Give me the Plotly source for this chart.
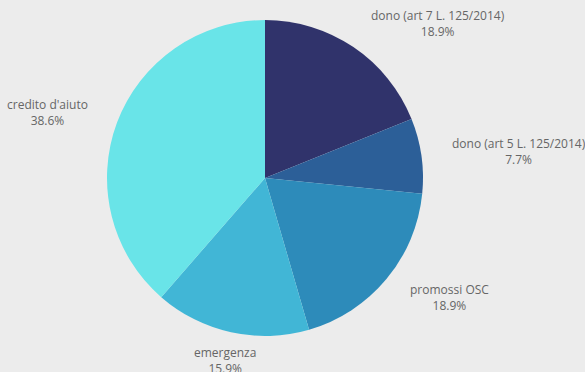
import math
import plotly.graph_objects as go

labels = ["dono (art 7 L. 125/2014)", "dono (art 5 L. 125/2014)", "promossi OSC",
          "emergenza", "credito d'aiuto"]
values = [18.9, 7.7, 18.9, 15.9, 38.6]
colors = ["#30336b", "#2c5f98", "#2d8bba", "#41b6d6", "#69e4e8"]

W, H = 585, 372
cx, cy, r = 265, 178, 158          # pie centre and radius in pixels
label_r = r * 1.18                  # radius at which labels are anchored

fig = go.Figure(go.Pie(
    labels=labels,
    values=values,
    sort=False,
    direction="clockwise",
    rotation=0,
    marker=dict(colors=colors, line=dict(width=0)),
    textinfo="none",
    hoverinfo="label+percent",
    showlegend=False,
    domain=dict(x=[(cx - r) / W, (cx + r) / W],
                y=[1 - (cy + r) / H, 1 - (cy - r) / H]),
))

# outside labels, placed on each slice's mid angle
total = sum(values)
cum = 0.0
annotations = []
for lab, val in zip(labels, values):
    mid = (cum + val / 2) / total * 2 * math.pi
    cum += val
    sx, sy = math.sin(mid), math.cos(mid)
    px = cx + label_r * sx
    py = cy - label_r * sy
    if abs(sx) < 0.3:
        xa = "center"
    elif sx > 0:
        xa = "left"
    else:
        xa = "right"
    annotations.append(dict(
        x=px / W, y=1 - py / H, xref="paper", yref="paper",
        text=f"{lab}<br>{val / total * 100:.1f}%",
        showarrow=False, xanchor=xa, yanchor="middle", align="center",
        font=dict(family="Open Sans", size=12, color="#666666"),
    ))

fig.update_layout(
    width=W, height=H,
    margin=dict(l=0, r=0, t=0, b=0),
    paper_bgcolor="#ececec",
    plot_bgcolor="#ececec",
    annotations=annotations,
)

fig.write_html("out.html")
